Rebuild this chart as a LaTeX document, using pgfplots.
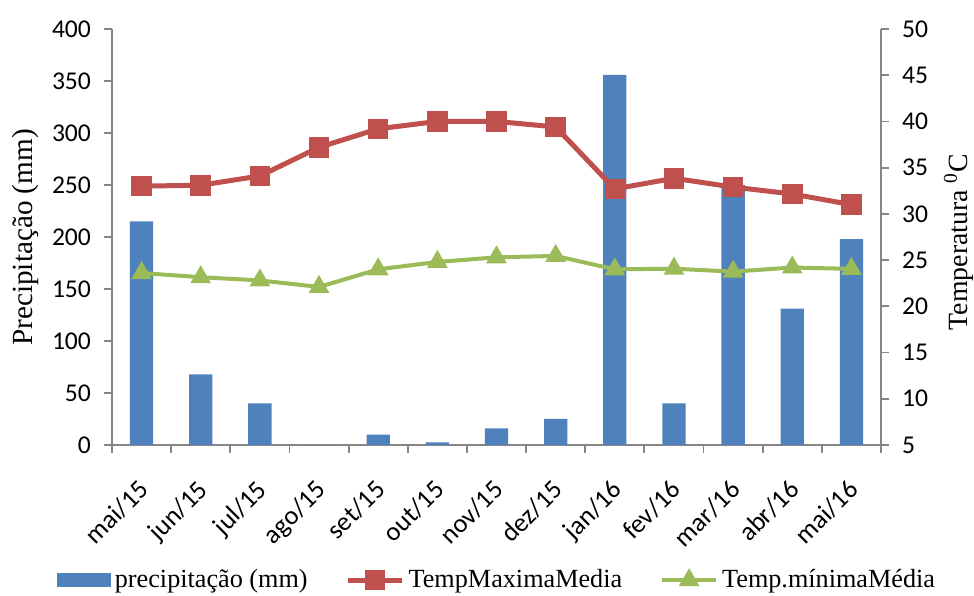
\documentclass[border=0pt]{standalone}
\usepackage{fontspec}
\setmainfont{Liberation Serif}
\newfontfamily\carlito{Carlito}
\usepackage{pgfplots}
\pgfplotsset{compat=1.18}
\definecolor{cblue}{HTML}{4F81BD}
\definecolor{cred}{HTML}{C0504D}
\definecolor{cgreen}{HTML}{9BBB59}
\definecolor{axgray}{HTML}{868686}

\pgfplotsset{
  twin/.style={
    scale only axis, width=384.5pt, height=208pt,
    xmin=-0.5, xmax=12.5,
    tick align=outside,
    major tick length=4pt, minor tick length=4pt,
    axis line style={axgray, line width=0.9pt},
    every tick/.style={axgray, line width=0.9pt},
    /pgf/number format/assume math mode=true,
    yticklabel style={font=\carlito\fontsize{12.8}{14}\selectfont},
  },
  longline/.style={legend image code/.code={%
    \draw[mark repeat=2,mark phase=2,##1] plot coordinates {(0pt,0pt) (13.5pt,0pt) (27pt,0pt)};}},
  barleg/.style={legend image code/.code={%
    \fill[cblue] (0pt,-3.25pt) rectangle (26.5pt,3.25pt);}},
}

\begin{document}
\begin{tikzpicture}
\begin{axis}[twin, name=ax,
    ymin=0, ymax=400, ytick={0,50,...,400},
    axis x line*=bottom, axis y line*=left,
    xtick={0,...,12},
    major x tick style={draw=none},
    minor xtick={-0.5,0.5,...,12.5},
    xticklabels={mai/15,jun/15,jul/15,ago/15,set/15,out/15,nov/15,dez/15,jan/16,fev/16,mar/16,abr/16,mai/16},
    xticklabel style={font=\carlito\fontsize{13.2}{15}\selectfont, xshift=-2.3pt, yshift=-12.5pt,
      rotate=45, anchor=north east, inner sep=0pt},
    yticklabel style={xshift=-3pt},
    ylabel={Precipitação (mm)},
    ylabel style={font=\fontsize{14.6}{16}\selectfont, at={(axis description cs:-0.113,0.499)}, anchor=center},
]
\addplot[ybar, bar width=0.394, fill=cblue, draw=none] coordinates {
  (0,215) (1,68) (2,40) (3,0) (4,10) (5,2.5) (6,16) (7,25)
  (8,356) (9,40) (10,250) (11,131) (12,198)
};
\end{axis}
\begin{axis}[twin,
    ymin=5, ymax=50, ytick={5,10,...,50},
    axis x line=none, axis y line*=right,
    yticklabel style={xshift=3pt},
    ylabel={Temperatura \textsuperscript{0}C},
    ylabel style={font=\fontsize{13.9}{15}\selectfont, at={(axis description cs:1.101,0.488)}, anchor=center},
    legend style={at={(0.502,-0.325)}, anchor=center, legend columns=3, draw=none,
      font=\fontsize{13.1}{15}\selectfont,
      /tikz/every even column/.append style={column sep=17pt},
      inner sep=0pt, nodes={inner sep=2pt}},
]
\addlegendimage{barleg}
\addlegendentry{precipitação (mm)}
\addplot[cred, line width=2.5pt, mark=square*, mark size=4.9pt,
  mark options={line width=0.5pt}, longline]
  coordinates {
  (0,33.0) (1,33.1) (2,34.1) (3,37.2) (4,39.2) (5,40.0) (6,40.0) (7,39.4)
  (8,32.7) (9,33.85) (10,32.9) (11,32.15) (12,31.0)
};
\addlegendentry{TempMaximaMedia}
\addplot[cgreen, line width=2pt, mark=triangle*, mark size=5.5pt,
  mark options={line width=0.5pt}, longline]
  coordinates {
  (0,23.6) (1,23.15) (2,22.8) (3,22.1) (4,24.0) (5,24.8) (6,25.3) (7,25.45)
  (8,24.0) (9,24.07) (10,23.75) (11,24.2) (12,24.05)
};
\addlegendentry{Temp.mínimaMédia}
\end{axis}
\pgfresetboundingbox
\path ([xshift=-56pt,yshift=-75.5pt]ax.south west) rectangle ([xshift=46.5pt,yshift=14.5pt]ax.north east);
\end{tikzpicture}
\end{document}
